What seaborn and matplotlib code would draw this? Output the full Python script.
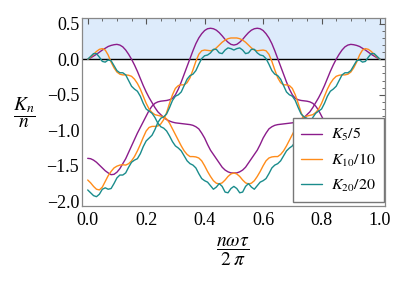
import numpy as np
import pandas as pd
import matplotlib
matplotlib.use("Agg")
import matplotlib.pyplot as plt
import seaborn as sns
from matplotlib.ticker import MultipleLocator

# x positions (sampled abscissa n*omega*tau/(2*pi))
x_vals = np.linspace(0.0, 1.0, 101)

# K5/5 branches
k5_upper = [0.00, 0.02, 0.045, 0.07, 0.10, 0.13, 0.155, 0.18, 0.195, 0.205, 0.21, 0.20, 0.175, 0.13, 0.07, 0.00, -0.08, -0.17, -0.27, -0.37, -0.46, -0.54, -0.61, -0.68, -0.74, -0.78, -0.82, -0.85, -0.87, -0.885, -0.895, -0.90, -0.905, -0.91, -0.915, -0.92, -0.93, -0.95, -0.98, -1.04, -1.11, -1.20, -1.28, -1.34, -1.40, -1.46, -1.52, -1.56, -1.585, -1.60, -1.60,
            -1.60, -1.585, -1.56, -1.52, -1.46, -1.40, -1.34, -1.28, -1.20, -1.11, -1.04, -0.98, -0.95, -0.93, -0.92, -0.915, -0.91, -0.905, -0.90, -0.895, -0.885, -0.87, -0.85, -0.82, -0.78, -0.74, -0.68, -0.61, -0.54, -0.46, -0.37, -0.27, -0.17, -0.08, 0.00, 0.07, 0.13, 0.175, 0.20, 0.21, 0.205, 0.195, 0.18, 0.155, 0.13, 0.10, 0.07, 0.045, 0.02, 0.00]
k5_lower = [-1.395, -1.40, -1.42, -1.45, -1.49, -1.53, -1.57, -1.60, -1.625, -1.62, -1.59, -1.54, -1.47, -1.40, -1.31, -1.22, -1.13, -1.04, -0.96, -0.88, -0.80, -0.72, -0.66, -0.62, -0.60, -0.59, -0.585, -0.58, -0.57, -0.55, -0.50, -0.42, -0.32, -0.21, -0.10, 0.01, 0.12, 0.22, 0.30, 0.36, 0.405, 0.43, 0.437, 0.43, 0.41, 0.375, 0.33, 0.28, 0.24, 0.21, 0.20,
            0.21, 0.24, 0.28, 0.33, 0.375, 0.41, 0.43, 0.437, 0.43, 0.405, 0.36, 0.30, 0.22, 0.12, 0.01, -0.10, -0.21, -0.32, -0.42, -0.50, -0.55, -0.57, -0.58, -0.585, -0.59, -0.60, -0.62, -0.66, -0.72, -0.80, -0.88, -0.96, -1.04, -1.13, -1.22, -1.31, -1.40, -1.47, -1.54, -1.59, -1.62, -1.625, -1.60, -1.57, -1.53, -1.49, -1.45, -1.42, -1.40, -1.395]

# K10/10 branches
k10_upper = [0.00, 0.03, 0.07, 0.11, 0.14, 0.15, 0.13, 0.06, -0.04, -0.12, -0.18, -0.21, -0.22, -0.22, -0.225, -0.24, -0.28, -0.34, -0.42, -0.52, -0.62, -0.70, -0.75, -0.78, -0.79, -0.80, -0.81, -0.84, -0.90, -0.98, -1.06, -1.14, -1.22, -1.29, -1.34, -1.37, -1.37, -1.375, -1.39, -1.43, -1.50, -1.58, -1.65, -1.71, -1.745, -1.755, -1.74, -1.70, -1.65, -1.615, -1.60,
             -1.615, -1.65, -1.70, -1.74, -1.755, -1.745, -1.71, -1.65, -1.58, -1.50, -1.43, -1.39, -1.375, -1.37, -1.37, -1.34, -1.29, -1.22, -1.14, -1.06, -0.98, -0.90, -0.84, -0.81, -0.80, -0.79, -0.78, -0.75, -0.70, -0.62, -0.52, -0.42, -0.34, -0.28, -0.24, -0.225, -0.22, -0.22, -0.21, -0.18, -0.12, -0.04, 0.06, 0.13, 0.15, 0.14, 0.11, 0.07, 0.03, 0.00]
k10_lower = [-1.70, -1.74, -1.79, -1.83, -1.84, -1.80, -1.72, -1.64, -1.58, -1.53, -1.505, -1.49, -1.485, -1.49, -1.47, -1.43, -1.37, -1.29, -1.20, -1.10, -1.01, -0.96, -0.945, -0.945, -0.94, -0.91, -0.85, -0.75, -0.62, -0.50, -0.41, -0.37, -0.36, -0.36, -0.33, -0.26, -0.15, -0.03, 0.07, 0.12, 0.13, 0.125, 0.12, 0.13, 0.16, 0.20, 0.24, 0.27, 0.29, 0.30, 0.30,
             0.30, 0.29, 0.27, 0.24, 0.20, 0.16, 0.13, 0.12, 0.125, 0.13, 0.12, 0.07, -0.03, -0.15, -0.26, -0.33, -0.36, -0.36, -0.37, -0.41, -0.50, -0.62, -0.75, -0.85, -0.91, -0.94, -0.945, -0.945, -0.96, -1.01, -1.10, -1.20, -1.29, -1.37, -1.43, -1.47, -1.49, -1.485, -1.49, -1.505, -1.53, -1.58, -1.64, -1.72, -1.80, -1.84, -1.83, -1.79, -1.74, -1.70]

# K20/20 branches
k20_upper = [0.00, 0.04, 0.08, 0.08, 0.03, -0.03, -0.04, -0.01, -0.02, -0.09, -0.16, -0.19, -0.19, -0.22, -0.30, -0.38, -0.42, -0.45, -0.52, -0.62, -0.70, -0.73, -0.76, -0.82, -0.90, -0.95, -0.97, -1.01, -1.08, -1.16, -1.22, -1.25, -1.29, -1.36, -1.43, -1.47, -1.49, -1.53, -1.61, -1.68, -1.71, -1.73, -1.78, -1.83, -1.80, -1.75, -1.79, -1.87, -1.88, -1.82, -1.79,
             -1.82, -1.88, -1.87, -1.79, -1.75, -1.80, -1.83, -1.78, -1.73, -1.71, -1.68, -1.61, -1.53, -1.49, -1.47, -1.43, -1.36, -1.29, -1.25, -1.22, -1.16, -1.08, -1.01, -0.97, -0.95, -0.90, -0.82, -0.76, -0.73, -0.70, -0.62, -0.52, -0.45, -0.42, -0.38, -0.30, -0.22, -0.19, -0.19, -0.16, -0.09, -0.02, -0.01, -0.04, -0.03, 0.03, 0.08, 0.08, 0.04, 0.00]
k20_lower = [-1.84, -1.88, -1.92, -1.935, -1.90, -1.83, -1.81, -1.83, -1.82, -1.75, -1.67, -1.63, -1.63, -1.60, -1.52, -1.45, -1.42, -1.40, -1.33, -1.23, -1.15, -1.11, -1.07, -0.99, -0.89, -0.83, -0.81, -0.77, -0.68, -0.58, -0.52, -0.50, -0.46, -0.37, -0.28, -0.23, -0.21, -0.16, -0.07, 0.01, 0.05, 0.06, 0.09, 0.14, 0.14, 0.09, 0.08, 0.13, 0.16, 0.15, 0.13,
             0.15, 0.16, 0.13, 0.08, 0.09, 0.14, 0.14, 0.09, 0.06, 0.05, 0.01, -0.07, -0.16, -0.21, -0.23, -0.28, -0.37, -0.46, -0.50, -0.52, -0.58, -0.68, -0.77, -0.81, -0.83, -0.89, -0.99, -1.07, -1.11, -1.15, -1.23, -1.33, -1.40, -1.42, -1.45, -1.52, -1.60, -1.63, -1.63, -1.67, -1.75, -1.82, -1.83, -1.81, -1.83, -1.90, -1.935, -1.92, -1.88, -1.84]

series_labels = [r"$K_{5}/5$", r"$K_{10}/10$", r"$K_{20}/20$"]
series_colors = ["#8B1C8B", "#FF8C1A", "#1A8C8C"]
x_ticks = [0.0, 0.2, 0.4, 0.6, 0.8, 1.0]
y_ticks = [-2.0, -1.5, -1.0, -0.5, 0.0, 0.5]

branches = [(k5_upper, k5_lower), (k10_upper, k10_lower), (k20_upper, k20_lower)]

sns.set_style("white")
plt.rcParams["font.family"] = ["Liberation Serif", "DejaVu Serif"]
plt.rcParams["mathtext.fontset"] = "stix"
plt.rcParams["text.color"] = "black"
plt.rcParams["xtick.color"] = "#555555"
plt.rcParams["ytick.color"] = "#555555"
plt.rcParams["xtick.labelcolor"] = "black"
plt.rcParams["ytick.labelcolor"] = "black"

fig = plt.figure(figsize=(4.13, 2.89), dpi=100)
ax = fig.add_axes([82 / 413, 1 - 206 / 289, (385 - 82) / 413, (206 - 18.3) / 289])

ax.axhspan(0, 1, color="#DDEBFB", zorder=0, lw=0)
ax.axhline(0, color="black", lw=1.0, zorder=1)

for (up, lo), lab, col in zip(branches, series_labels, series_colors):
    sns.lineplot(x=x_vals, y=up, ax=ax, color=col, lw=1.0, label=lab, zorder=3)
    sns.lineplot(x=x_vals, y=lo, ax=ax, color=col, lw=1.0, zorder=3)

ax.set_xlim(-0.0195, 1.017)
ax.set_ylim(-2.066, 0.577)
ax.set_xticks(x_ticks)
ax.set_xticklabels([f"{t:.1f}" for t in x_ticks])
ax.set_yticks(y_ticks)
ax.set_yticklabels([f"{t:.1f}".replace("-", "\u2212") for t in y_ticks])
ax.xaxis.set_minor_locator(MultipleLocator(0.05))
ax.yaxis.set_minor_locator(MultipleLocator(0.1))
ax.tick_params(which="both", direction="in", top=True, right=True, labelsize=13)
ax.tick_params(axis="x", pad=4)
ax.tick_params(axis="y", pad=2)
ax.tick_params(which="major", length=4, width=0.8)
ax.tick_params(which="minor", length=2, width=0.6)
for s in ax.spines.values():
    s.set_color("#888888")
    s.set_linewidth(0.9)
ax.set_xlabel("")
ax.set_ylabel("")

fig.text(24 / 413, 1 - 113 / 289, r"$\dfrac{K_n}{n}$", fontsize=14, ha="center", va="center")
fig.text(233 / 413, 1 - 252 / 289, r"$\dfrac{n\omega\tau}{2\;\pi}$", fontsize=14, ha="center", va="center")

leg = ax.legend(loc="lower right", bbox_to_anchor=(384 / 413, 1 - 202 / 289),
                bbox_transform=fig.transFigure, fontsize=11.5, frameon=True,
                fancybox=False, framealpha=1, edgecolor="#777777",
                handlelength=1.3, borderpad=0.5, labelspacing=0.55, handletextpad=0.6,
                borderaxespad=0)
leg.get_frame().set_linewidth(1.0)
leg.set_zorder(5)

fig.savefig("out.png", dpi=100)
